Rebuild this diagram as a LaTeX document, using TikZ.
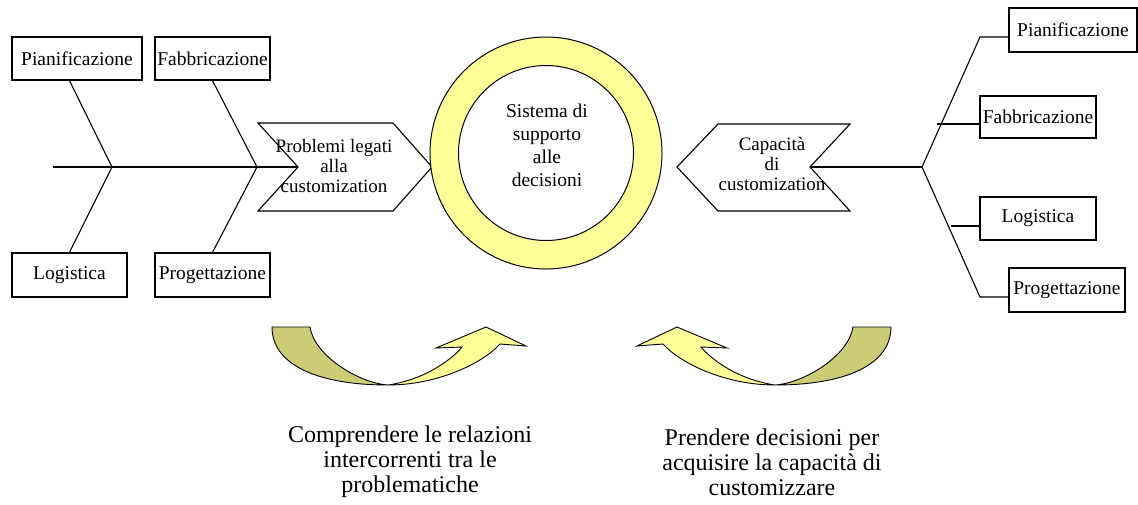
\documentclass[tikz,border=0pt]{standalone}
\usepackage{fontspec}
\setmainfont{Liberation Serif}
\usetikzlibrary{calc}
\definecolor{ringyellow}{HTML}{FFFF99}
\definecolor{tailolive}{HTML}{CCCC77}
\begin{document}
\begin{tikzpicture}[x=1pt,y=-1pt,line join=miter,
  box/.style={draw,line width=1.1pt,inner sep=0pt,fill=white,
    font=\fontsize{19.5}{22}\selectfont},
  bone/.style={line width=1.1pt},
  chev/.style={draw,line width=1.1pt,fill=white},
  chevtext/.style={align=center,inner sep=0pt,font=\fontsize{19}{20}\selectfont},
  caption/.style={align=center,inner sep=0pt,font=\fontsize{24}{25}\selectfont},
  uturn/.pic={
    % tail of the curved arrow
    \draw[line width=0.9pt,fill=tailolive]
      (-116,-58) -- (-78,-58)
      .. controls (-74,-30) and (-30,-2) .. (0,0)
      .. controls (-70,0) and (-116,-20) .. cycle;
    % rising part with the arrowhead
    \draw[line width=0.9pt,fill=ringyellow]
      (0,0) .. controls (50,0) and (95,-22) .. (112,-41)
      -- (138,-39) -- (98,-58) -- (48,-37) -- (74,-38)
      .. controls (66,-28) and (40,-6) .. (0,0) -- cycle;
  }]
\useasboundingbox (0,0) rectangle (1138,504);

% ---- left fishbone: causes of the customization problems
\node[box,minimum width=130pt,minimum height=43pt] (pianL) at (77,58.5) {Pianificazione};
\node[box,minimum width=115pt,minimum height=43pt] (fabL) at (212.5,58.5) {Fabbricazione};
\node[box,minimum width=115pt,minimum height=44pt] (logL) at (69.5,275) {Logistica};
\node[box,minimum width=115pt,minimum height=44pt] (progL) at (212.5,275) {Progettazione};

\coordinate (spineL) at (53,167);
\coordinate (jointA) at (112,167);
\coordinate (jointB) at (257,167);
\coordinate (notchL) at (298,167);

\draw[bone] (spineL) -- (notchL);
\draw[bone] ($(pianL.south west)+(58,0)$) -- (jointA) -- ($(logL.north west)+(58,0)$);
\draw[bone] ($(fabL.south west)+(58,0)$) -- (jointB) -- ($(progL.north west)+(58,0)$);

% ---- left chevron
\draw[chev] (258,123) -- (393,123) -- (432,167) -- (393,211) -- (258,211) -- (notchL) -- cycle;
\node[chevtext] (probT) at (334,166) {Problemi legati\\alla\\customization};

% ---- central ring
\node[circle,draw,line width=1pt,fill=ringyellow,minimum size=232pt,inner sep=0pt] (ring) at (546,153) {};
\node[circle,draw,line width=1pt,fill=white,minimum size=175pt,inner sep=0pt] (hub) at (546,153) {};
\node[align=center,inner sep=0pt,font=\fontsize{19.5}{23}\selectfont] (dss) at (547,145)
  {Sistema di\\supporto\\alle\\decisioni};

% ---- right chevron
\coordinate (notchR) at (810,167);
\draw[chev] (677,167) -- (718,124) -- (850,124) -- (notchR) -- (850,211) -- (718,211) -- cycle;
\node[chevtext] (capT) at (772,164) {Capacità\\di\\customization};

% ---- right tree: areas of the customization capability
\node[box,minimum width=128pt,minimum height=44pt] (pianR) at (1073,30) {Pianificazione};
\node[box,minimum width=116pt,minimum height=42pt] (fabR) at (1038,117) {Fabbricazione};
\node[box,minimum width=116pt,minimum height=43pt] (logR) at (1038,218.5) {Logistica};
\node[box,minimum width=116pt,minimum height=44pt] (progR) at (1067,290) {Progettazione};

\coordinate (jointR) at (922,167);
\coordinate (kneeUp) at (980,37);
\coordinate (kneeDown) at (980,297);
\coordinate (fabStub) at (937,124);
\coordinate (logStub) at (951,226);

\draw[bone] (notchR) -- (jointR);
\draw[bone] (jointR) -- (kneeUp) -- ($(pianR.west)+(0,7)$);
\draw[bone] (jointR) -- (kneeDown) -- ($(progR.west)+(0,7)$);
\draw[bone] (fabStub) -- ($(fabR.west)+(0,7)$);
\draw[bone] (logStub) -- ($(logR.west)+(0,7.5)$);

% ---- curved arrows and their captions
\pic (arrowL) at (388,385) {uturn};
\pic[xscale=-1] (arrowR) at (775,385) {uturn};

\node[caption] (capL) at (410,462)
  {Comprendere le relazioni\\intercorrenti tra le\\problematiche};
\node[caption] (capR) at (772,462)
  {Prendere decisioni per\\acquisire la capacità di\\customizzare};
\end{tikzpicture}
\end{document}
